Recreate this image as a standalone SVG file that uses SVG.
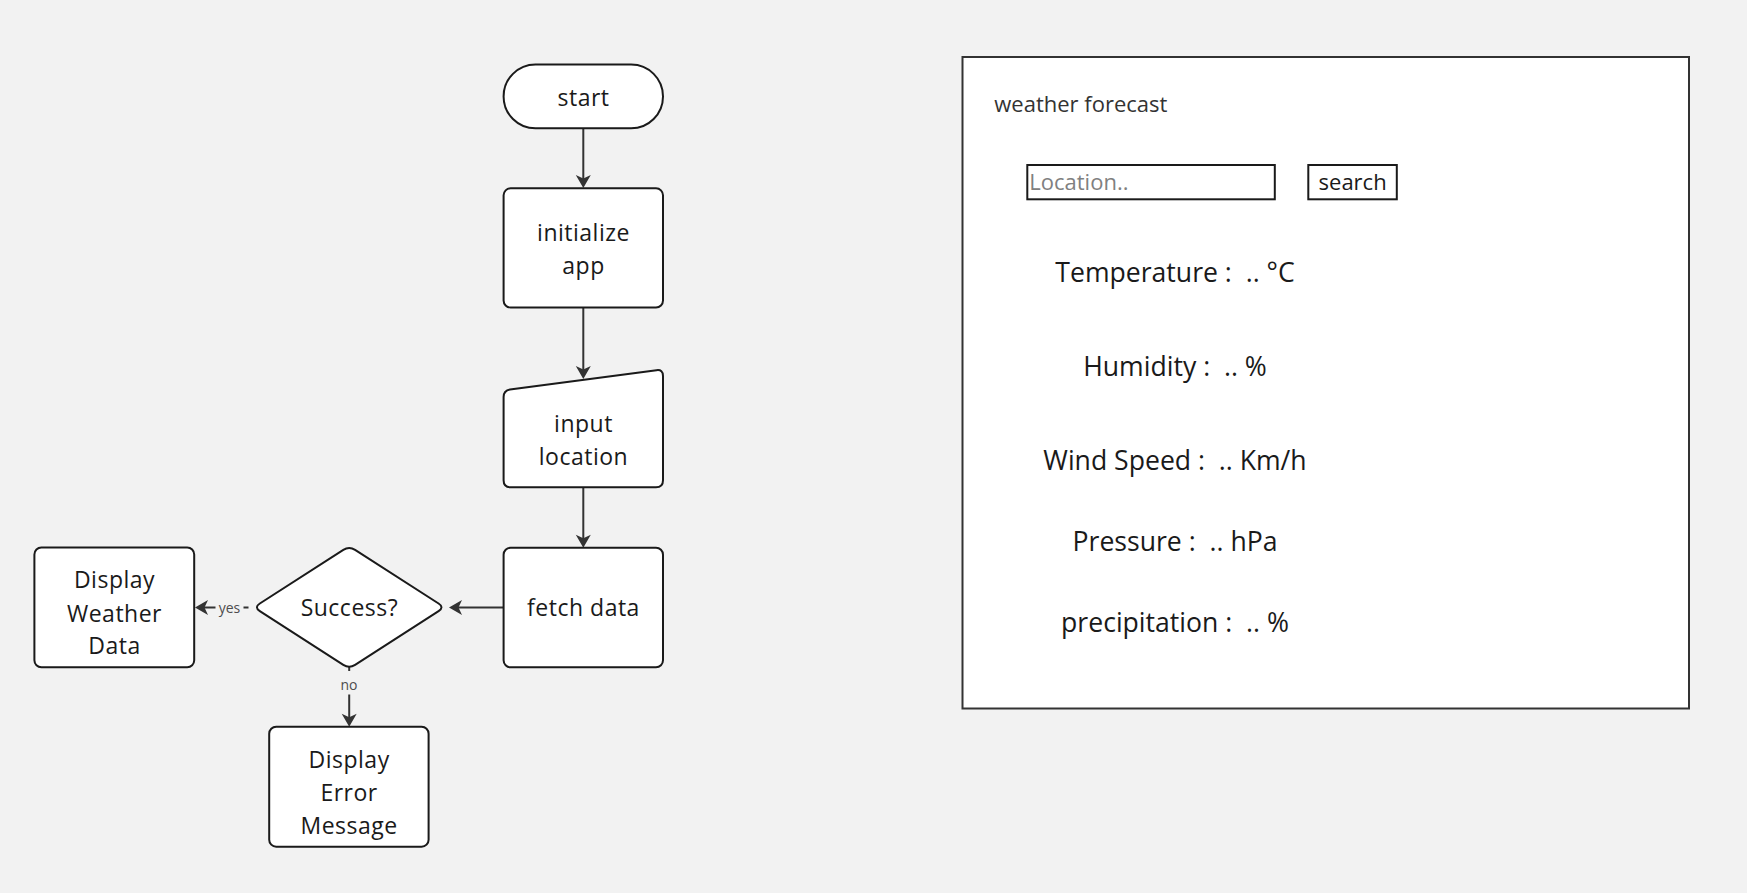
<svg xmlns="http://www.w3.org/2000/svg" width="1747" height="893" viewBox="0 0 1747 893">
<style>
.bg{fill:#f2f2f2}
.node{fill:#ffffff;stroke:#1a1a1a;stroke-width:2}
.t{font-family:'Open Sans','Noto Sans','Liberation Sans',sans-serif;font-size:23px;letter-spacing:0.5px;fill:#1a1a1a;text-anchor:middle}
.lbl{font-family:'Open Sans','Noto Sans','Liberation Sans',sans-serif;font-size:14px;fill:#4d4d4d;text-anchor:middle}
.conn{fill:none;stroke:#333333;stroke-width:2}
.frame{fill:#ffffff;stroke:#333333;stroke-width:2}
.box{fill:#ffffff;stroke:#1a1a1a;stroke-width:2}
.wt{font-family:'Open Sans','Noto Sans','Liberation Sans',sans-serif;font-size:22px;fill:#1a1a1a}
.st{font-family:'Open Sans','Noto Sans','Liberation Sans',sans-serif;font-size:22px;fill:#1a1a1a;text-anchor:middle}
.big{font-family:'Open Sans','Noto Sans','Liberation Sans',sans-serif;font-size:26.6px;fill:#1a1a1a;text-anchor:middle;white-space:pre}
</style>
<defs>
<marker id="arr" viewBox="-8 -8 16 16" markerWidth="16" markerHeight="16" refX="0" refY="0" markerUnits="userSpaceOnUse" orient="auto">
<path d="M6,0 L-7,-7.5 L-3.5,0 L-7,7.5 Z" fill="#333333"/>
</marker>
</defs>
<rect class="bg" x="0" y="0" width="1747" height="893"/>

<g id="connectors">
<path class="conn" d="M583.3,128.3 L583.3,182" marker-end="url(#arr)"/>
<path class="conn" d="M583.3,307.5 L583.3,373" marker-end="url(#arr)"/>
<path class="conn" d="M583.3,487.3 L583.3,541.7" marker-end="url(#arr)"/>
<path class="conn" d="M503.6,607.5 L455,607.5" marker-end="url(#arr)"/>
<path class="conn" d="M248.5,607.5 L201,607.5" marker-end="url(#arr)"/>
<rect class="bg" x="215.5" y="598" width="28" height="19"/>
<text class="lbl" x="229.5" y="612.5">yes</text>
<path class="conn" d="M349.2,666.7 L349.2,720.7" marker-end="url(#arr)"/>
<rect class="bg" x="338" y="671" width="22" height="23.5"/>
<text class="lbl" x="349" y="690">no</text>
</g>

<g id="start">
<rect class="node" x="503.6" y="64.5" width="159.4" height="63.8" rx="31.9"/>
<text class="t" x="583.5" y="106">start</text>
</g>
<g id="initialize-app">
<rect class="node" x="503.6" y="188.3" width="159.4" height="119.2" rx="7"/>
<text class="t" x="583.5" y="240.7">initialize</text>
<text class="t" x="583.5" y="273.7">app</text>
</g>
<g id="input-location">
<path class="node" d="M503.6,397 Q503.6,390.5 510,389.4 L656.5,370.2 Q663,369.3 663,376 L663,480.3 Q663,487.3 656,487.3 L510.6,487.3 Q503.6,487.3 503.6,480.3 Z"/>
<text class="t" x="583.5" y="431.7">input</text>
<text class="t" x="583.5" y="464.5">location</text>
</g>
<g id="fetch-data">
<rect class="node" x="503.6" y="547.7" width="159.4" height="119.6" rx="7"/>
<text class="t" x="583.5" y="615.7">fetch data</text>
</g>
<g id="success">
<path class="node" d="M259.84,603.51 L343.32,549.79 Q349.2,546 355.09,549.79 L438.57,603.51 Q444.45,607.3 438.57,611.09 L355.09,664.81 Q349.2,668.6 343.32,664.81 L259.84,611.09 Q253.95,607.3 259.84,603.51 Z"/>
<text class="t" x="349.4" y="615.7">Success?</text>
</g>
<g id="display-weather-data">
<rect class="node" x="34.4" y="547.5" width="159.8" height="119.8" rx="7"/>
<text class="t" x="114.5" y="588.3">Display</text>
<text class="t" x="114.5" y="621.5">Weather</text>
<text class="t" x="114.5" y="654.3">Data</text>
</g>
<g id="display-error-message">
<rect class="node" x="269.2" y="726.7" width="159.4" height="120" rx="7"/>
<text class="t" x="349.1" y="768.3">Display</text>
<text class="t" x="349.1" y="800.9">Error</text>
<text class="t" x="349.1" y="833.5">Message</text>
</g>

<g id="wireframe">
<rect class="frame" x="962.5" y="57" width="726.5" height="651.5"/>
<text class="wt" x="994.3" y="111.7" style="fill:#333333">weather forecast</text>
<rect class="box" x="1027.3" y="165" width="247.5" height="34.3"/>
<text class="wt" x="1029.3" y="190" style="fill:#808080">Location..</text>
<rect class="box" x="1308.3" y="165" width="88.5" height="34.3"/>
<text class="st" x="1352.6" y="190">search</text>
<text class="big" x="1175" y="282.3" xml:space="preserve">Temperature :  .. °C</text>
<text class="big" x="1175" y="376" xml:space="preserve">Humidity :  .. %</text>
<text class="big" x="1175" y="470" xml:space="preserve">Wind Speed :  .. Km/h</text>
<text class="big" x="1175" y="551" xml:space="preserve">Pressure :  .. hPa</text>
<text class="big" x="1175" y="631.7" xml:space="preserve">precipitation :  .. %</text>
</g>
</svg>
